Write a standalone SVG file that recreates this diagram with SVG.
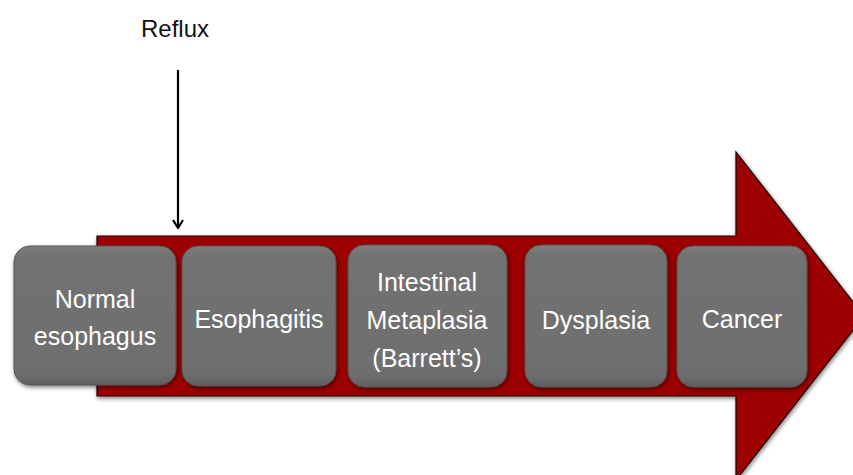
<svg xmlns="http://www.w3.org/2000/svg" width="853" height="475" viewBox="0 0 853 475">
<defs>
<linearGradient id="boxg" x1="0" y1="0" x2="0" y2="1">
<stop offset="0" stop-color="#7c7c7c"/>
<stop offset="0.08" stop-color="#727272"/>
<stop offset="0.92" stop-color="#6e6e6e"/>
<stop offset="1" stop-color="#5e5e5e"/>
</linearGradient>
<filter id="sh" x="-10%" y="-10%" width="125%" height="125%">
<feGaussianBlur in="SourceAlpha" stdDeviation="2"/>
<feOffset dx="1" dy="2" result="b"/>
<feComponentTransfer><feFuncA type="linear" slope="0.5"/></feComponentTransfer>
<feMerge><feMergeNode/><feMergeNode in="SourceGraphic"/></feMerge>
</filter>
<marker id="ah" viewBox="0 0 12 12" refX="11" refY="6" markerWidth="12" markerHeight="12" markerUnits="userSpaceOnUse" orient="auto">
<path d="M3,1 L11,6 L3,11" fill="none" stroke="#000" stroke-width="2.2"/>
</marker>
</defs>
<style>
.box{fill:url(#boxg);stroke:#555;stroke-width:1;filter:url(#sh)}
.lbl{font-family:"Liberation Sans",Arial,sans-serif;font-size:25px;fill:#fff;text-anchor:middle}
.top{font-family:"Liberation Sans",Arial,sans-serif;font-size:24px;fill:#111;text-anchor:middle}
</style>
<rect width="853" height="475" fill="#fff"/>
<g id="big-arrow">
<path d="M97,236 L736,236 L736,152 L864,316 L736,480 L736,396 L97,396 Z" fill="#9c0000" stroke="#1a0000" stroke-width="1.2" filter="url(#sh)"/>
</g>
<g id="connectors">
<line x1="178" y1="70" x2="178" y2="228" stroke="#000" stroke-width="2.2" marker-end="url(#ah)"/>
</g>
<g id="reflux">
<text class="top" x="175" y="37">Reflux</text>
</g>
<g id="normal">
<rect class="box" x="14" y="246" width="162" height="139" rx="16"/>
<text class="lbl" x="95" y="308">Normal</text>
<text class="lbl" x="95" y="345">esophagus</text>
</g>
<g id="esophagitis">
<rect class="box" x="182" y="246" width="154" height="140" rx="16"/>
<text class="lbl" x="259" y="328">Esophagitis</text>
</g>
<g id="metaplasia">
<rect class="box" x="348" y="245" width="159" height="142" rx="16"/>
<text class="lbl" x="427" y="291">Intestinal</text>
<text class="lbl" x="427" y="329">Metaplasia</text>
<text class="lbl" x="427" y="367">(Barrett’s)</text>
</g>
<g id="dysplasia">
<rect class="box" x="525" y="245" width="142" height="142" rx="16"/>
<text class="lbl" x="596" y="329">Dysplasia</text>
</g>
<g id="cancer">
<rect class="box" x="677" y="246" width="130" height="141" rx="16"/>
<text class="lbl" x="742" y="328">Cancer</text>
</g>
</svg>
